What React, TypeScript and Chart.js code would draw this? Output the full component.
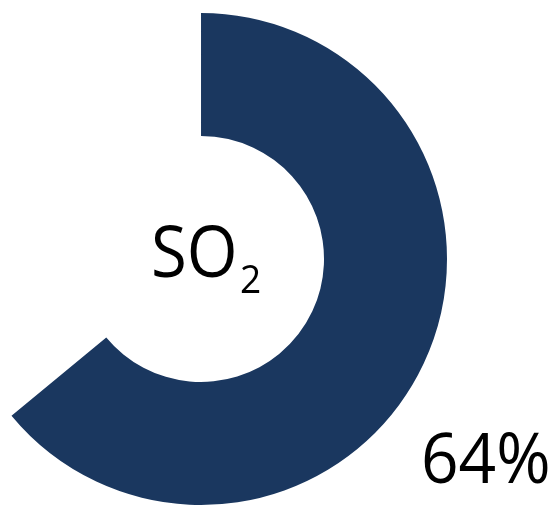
import React, { useEffect, useRef } from "react";
import { Chart, registerables } from "chart.js";

Chart.register(...registerables);

const categories = ["SO₂"];
const values = [64];
const valueLabels = ["64%"];
const NAVY = "#1a375f";

function drawScaled(ctx: CanvasRenderingContext2D, text: string, x: number, y: number, font: string, sx: number) {
  ctx.save();
  ctx.font = font;
  ctx.translate(x, y);
  ctx.scale(sx, 1);
  ctx.fillText(text, 0, 0);
  ctx.restore();
}

const textPlugin = {
  id: "doughnutTexts",
  afterDraw(chart: any) {
    const arc = chart.getDatasetMeta(0).data[0];
    if (!arc) return;
    const ctx = chart.ctx as CanvasRenderingContext2D;
    const cx = arc.x;
    const cy = arc.y;
    ctx.save();
    ctx.fillStyle = "#000";
    ctx.textBaseline = "alphabetic";
    ctx.textAlign = "left";
    drawScaled(ctx, "SO", cx - 50, cy + 18, '71px "Open Sans"', 0.92);
    drawScaled(ctx, "2", cx + 39, cy + 34, '39px "Open Sans"', 0.95);
    drawScaled(ctx, valueLabels[0], 421, cy + 224, '70px "Open Sans"', 0.94);
    ctx.restore();
  },
};

export default function App() {
  const ref = useRef<HTMLCanvasElement>(null);
  useEffect(() => {
    if (!ref.current) return;
    const chart = new Chart(ref.current, {
      type: "doughnut",
      data: {
        labels: categories,
        datasets: [
          {
            data: values,
            backgroundColor: [NAVY],
            borderWidth: 0,
          },
        ],
      },
      options: {
        responsive: false,
        animation: false,
        cutout: "50%",
        rotation: 0,
        circumference: (values[0] / 100) * 360,
        layout: { padding: { left: 11.5, right: 108, top: 13, bottom: 2 } },
        plugins: {
          legend: { display: false },
          tooltip: { enabled: false },
        },
      },
      plugins: [textPlugin],
    });
    return () => chart.destroy();
  }, []);
  return (
    <div style={{ position: "absolute", left: 0, top: 0, width: 555, height: 507, background: "#fff" }}>
      <canvas ref={ref} width={555} height={507} />
    </div>
  );
}
